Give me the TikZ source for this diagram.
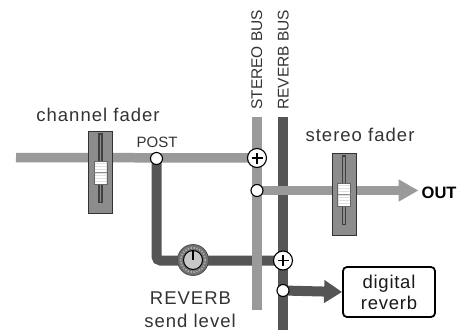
\documentclass[tikz,border=0pt]{standalone}
\usepackage{fontspec}
\setmainfont{Liberation Sans}
\usetikzlibrary{arrows.meta}
\definecolor{lightbus}{HTML}{9A9A9A}
\definecolor{darkbus}{HTML}{555555}
\definecolor{txt}{HTML}{333333}
\definecolor{faderfill}{HTML}{8C8C8C}
\pgfdeclarelayer{bg}
\pgfsetlayers{bg,main}
\tikzset{
  lbl/.style={text=txt, inner sep=0pt, font=\fontsize{18.5pt}{21pt}\selectfont\addfontfeatures{LetterSpace=5.5}},
  postlbl/.style={text=txt, inner sep=0pt, font=\fontsize{15pt}{17pt}\selectfont},
  buslbl/.style={text=txt, inner sep=0pt, rotate=90, anchor=base west, font=\fontsize{15.5pt}{18pt}\selectfont},
  outlbl/.style={text=black, inner sep=0pt, font=\fontsize{16.5pt}{19pt}\selectfont\bfseries},
  tap/.style={circle, draw=black, line width=1.1pt, fill=white, minimum size=12pt, inner sep=0pt},
  sum/.style={circle, draw=black, line width=1.1pt, fill=white, minimum size=19pt, inner sep=0pt,
    path picture={
      \draw[line width=1.1pt] ([xshift=-5.5pt]path picture bounding box.center) -- ([xshift=5.5pt]path picture bounding box.center)
        ([yshift=-5.5pt]path picture bounding box.center) -- ([yshift=5.5pt]path picture bounding box.center);}},
  fader/.style={rectangle, draw=black!80, line width=1pt, fill=faderfill, minimum width=24pt, minimum height=82pt, inner sep=0pt,
    path picture={
      \begin{scope}[shift={(path picture bounding box.center)}]
        \fill[black!75] (-2.2,-39) rectangle (2.2,31);
        \fill[black!45] (-0.6,-37.5) rectangle (0.6,29.5);
        \draw[black!60, fill=black!12, line width=0.6pt] (-6.5,-11) rectangle (6.5,12.5);
        \foreach \yy in {-9.5,-8,...,-0.5} {\draw[white, line width=0.7pt] (-5.5,\yy) -- (5.5,\yy);}
        \foreach \yy in {2.5,4,...,11.5} {\draw[white, line width=0.7pt] (-5.5,\yy) -- (5.5,\yy);}
        \draw[black!45, line width=0.8pt] (-6.5,0.8) -- (6.5,0.8);
      \end{scope}}},
  knob/.style={circle, draw=black!70, line width=0.8pt, fill=black!55, minimum size=31pt, inner sep=0pt,
    path picture={
      \begin{scope}[shift={(path picture bounding box.center)}]
        \draw[black!30, line width=1.6pt, dash pattern=on 1.3pt off 1.6pt] (0,0) circle (12.3pt);
        \draw[black, line width=1pt, fill=black!22] (0,0) circle (9.5pt);
        \draw[black, line width=1.3pt] (0,0) -- (0,-10);
      \end{scope}}},
  rbox/.style={rectangle, rounded corners=4pt, draw=black, line width=1.8pt, fill=white, minimum width=92pt, minimum height=50pt, align=center, inner sep=0pt,
    font=\fontsize{18.5pt}{21pt}\selectfont\addfontfeatures{LetterSpace=4}, text=black!90},
  busline/.style={line width=10pt},
}
\begin{document}
\begin{tikzpicture}[x=1pt,y=-1pt]
\useasboundingbox (0,0) rectangle (459,333);
% coordinates
\coordinate (in) at (16,157.5);
\coordinate (sbtop) at (257,117);
\coordinate (sbbot) at (257,310);
\coordinate (rbtop) at (283,117);
\coordinate (rbbot) at (283,330);
\coordinate (outtip) at (418.5,190.5);
% nodes
\node[fader] (chf) at (100.5,172) {};
\node[fader] (stf) at (344,194) {};
\node[tap] (post) at (156.5,158.5) {};
\node[sum] (sum1) at (257,158) {};
\node[tap] (otap) at (257,190.5) {};
\node[sum] (sum2) at (283,260.5) {};
\node[tap] (rtap) at (283,290.5) {};
\node[knob] (knob) at (193,260) {};
\node[rbox] (dr) at (389,292) {digital\\reverb};
% labels
\node[lbl, anchor=base] (chl) at (98,121.5) {channel fader};
\node[postlbl, anchor=base] (postl) at (157,147) {POST};
\node[lbl, anchor=base] (stl) at (360,141.5) {stereo fader};
\node[buslbl] (sbl) at (262,110) {STEREO BUS};
\node[buslbl] (rbl) at (288.5,110) {REVERB BUS};
\node[lbl, anchor=base] (revl) at (190.5,304) {REVERB};
\node[lbl, anchor=base] (sendl) at (190,327) {send level};
\node[outlbl, anchor=base west] (out) at (421.5,198.5) {OUT};
% connectors
\begin{pgfonlayer}{bg}
  \draw[busline, darkbus] (rbtop) -- (rbbot);
  \draw[busline, darkbus, rounded corners=4pt] (post.center) |- (sum2.center);
  \draw[busline, lightbus] (sbtop) -- (sbbot);
  \draw[lightbus, line width=9.5pt] (in) -- (sum1.center);
  \draw[lightbus, line width=9.5pt, -{Triangle[length=20pt,width=21pt]}] (otap.center) -- (outtip);
  \draw[darkbus, line width=10pt, -{Triangle[length=18pt,width=22pt]}] (rtap.center) -- (dr.west);
\end{pgfonlayer}
\end{tikzpicture}
\end{document}
